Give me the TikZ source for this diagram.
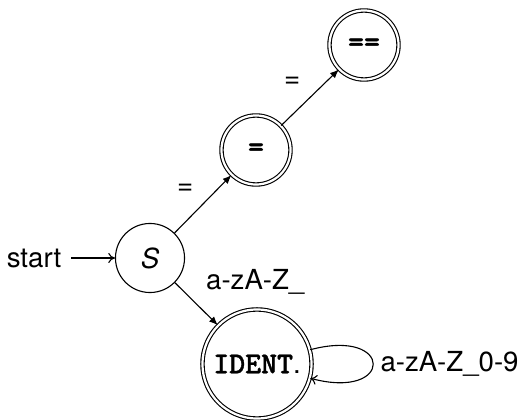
\documentclass[tikz,border=0pt]{standalone}
\usepackage{fontspec}
\setmainfont{TeX Gyre Heros}
\newfontfamily\btt{lmmonolt10-bold.otf}[Scale=1.1,FakeBold=1.2]
\usetikzlibrary{arrows.meta}
\begin{document}
\begin{tikzpicture}[x=0.362pt,y=-0.362pt,
  every node/.style={font=\fontsize{10pt}{12pt}\selectfont},
  stt/.style={draw,circle,minimum size=25pt,inner sep=0pt,line width=0.4pt},
  acc/.style={stt,double,double distance=0.8pt},
  edge/.style={-{Latex[length=3.2pt,width=2.6pt]},line width=0.4pt},
  plain/.style={-{To[length=2.4pt,width=3.6pt]},line width=0.4pt}]
\useasboundingbox (0,0) rectangle (526,420);
\node[stt] (S) at (150,258) {\textit{S}};
\node[acc] (E1) at (256,150) {{\btt =}};
\node[acc] (E2) at (364,45) {{\btt ==}};
\node[acc,minimum size=39.5pt] (ID) at (257,364) {{\btt IDENT}.};
\node[anchor=east] (start) at (71,258) {start};
\draw[plain] (start) -- (S);
\draw[edge] (S) -- node[above left] (l1) {=} (E1);
\draw[edge] (E1) -- node[above left] (l2) {=} (E2);
\draw[edge] (S) -- node[above right] (l3) {a-zA-Z\_} (ID);
\draw[plain] (ID) to[out=15,in=-15,looseness=7.8] node[right,inner sep=2.5pt] (l4) {a-zA-Z\_0-9} (ID);
\end{tikzpicture}
\end{document}
